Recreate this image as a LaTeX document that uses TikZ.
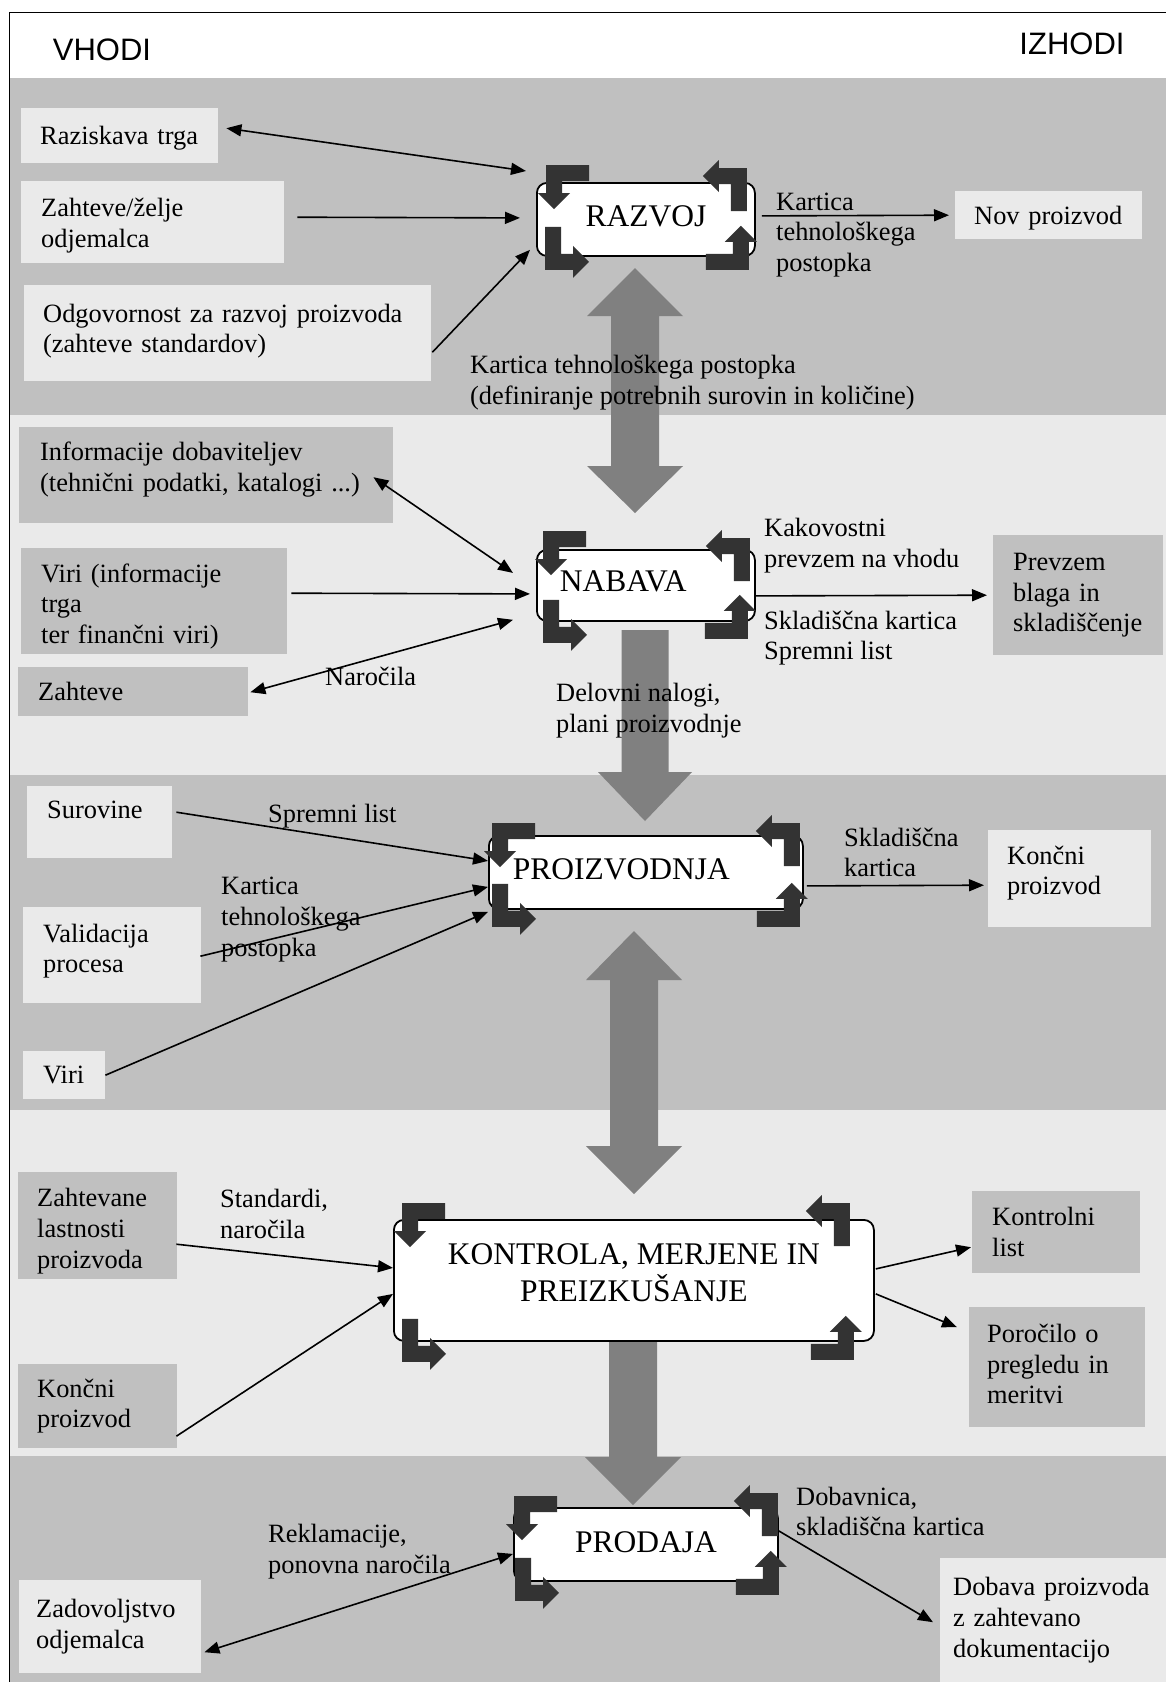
\documentclass[tikz,border=0pt]{standalone}
\usepackage{fontspec}
\setmainfont{Liberation Serif}
\newfontfamily\headfont{Liberation Sans}
\usetikzlibrary{arrows.meta,calc}
\definecolor{bandgray}{HTML}{C0C0C0}
\definecolor{bandlight}{HTML}{EAEAEA}
\definecolor{blockgray}{HTML}{808080}
\definecolor{cornergray}{HTML}{333333}
\hyphenpenalty=10000
\exhyphenpenalty=10000

% invisible struts to nudge text inside a box
\newcommand\padbelow[1]{\rule[-#1]{0pt}{#1}}
\newcommand\padabove[1]{\rule{0pt}{#1}}

% four bent arrows around a process box
\newcommand\turnarrows[9]{%
  \pic at ($(#1.north west)+(#2,#3)$) {bentarr};
  \pic[rotate=-90] at ($(#1.north east)+(#4,#5)$) {bentarr};
  \pic[rotate=90] at ($(#1.south west)+(#6,#7)$) {bentarr};
  \pic[rotate=180] at ($(#1.south east)+(#8,#9)$) {bentarr};}

\begin{document}
\begin{tikzpicture}[x=1pt,y=1pt,
  every node/.style={font=\fontsize{26.4}{30.7}\selectfont},
  inbox/.style={rectangle, anchor=north west, inner ysep=0pt, align=left},
  light/.style={fill=bandlight},
  dark/.style={fill=bandgray},
  lbl/.style={anchor=west, inner sep=0pt, align=left},
  proc/.style={draw, line width=1.8pt, fill=white, rounded corners=10pt,
    anchor=north west, inner sep=0pt, align=center,
    font=\fontsize{31.5}{37}\selectfont},
  head/.style={font=\headfont\fontsize{31}{36}\selectfont, inner sep=0pt},
  conn/.style={line width=1.6pt, -{Triangle[length=15pt,width=12pt]}},
  conn2/.style={line width=1.6pt,
    {Triangle[length=15pt,width=12pt]}-{Triangle[length=15pt,width=12pt]}},
  blockarr/.style={fill=blockgray},
  bentarr/.pic={\fill[cornergray] (43,0) -- (0,0) -- (0,-28) -- (-8,-28)
    -- (8,-44) -- (24,-28) -- (16,-28) -- (16,-16) -- (43,-16) -- cycle;}
]
\useasboundingbox (0,0) rectangle (1166,-1682);
\fill[white] (0,0) rectangle (1166,-1682);

% horizontal bands
\fill[bandgray]  (10,-78)   rectangle (1166,-415);
\fill[bandlight] (10,-415)  rectangle (1166,-775);
\fill[bandgray]  (10,-775)  rectangle (1166,-1110);
\fill[bandlight] (10,-1110) rectangle (1166,-1456);
\fill[bandgray]  (10,-1456) rectangle (1166,-1682);
\draw[line width=1.6pt] (9.5,-1682) -- (9.5,-12.5) -- (1166,-12.5);

\node[head] (vhodi) at (102,-50) {VHODI};
\node[head] (izhodi) at (1072,-44) {IZHODI};

% block arrows between the stages
\fill[blockarr] (635,-268) -- (683,-316) -- (659,-316) -- (659,-466) -- (683,-466)
  -- (635,-513) -- (587,-466) -- (611,-466) -- (611,-316) -- (587,-316) -- cycle;
\fill[blockarr] (621.5,-630) -- (668.5,-630) -- (668.5,-772) -- (692,-772)
  -- (645,-821) -- (598,-772) -- (621.5,-772) -- cycle;
\fill[blockarr] (634,-931) -- (682,-980) -- (658,-980) -- (658,-1146) -- (682,-1146)
  -- (634,-1194) -- (586,-1146) -- (610,-1146) -- (610,-980) -- (586,-980) -- cycle;
\fill[blockarr] (609,-1340) -- (657,-1340) -- (657,-1457) -- (681,-1457)
  -- (633,-1505) -- (585,-1457) -- (609,-1457) -- cycle;

% inputs and outputs
\node[inbox, light, minimum height=55pt,  inner xsep=19pt, text width=159pt] (braz)  at (21,-108)  {\padabove{22.5pt}Raziskava~trga};
\node[inbox, light, minimum height=82pt,  inner xsep=20pt, text width=223pt] (bzel)  at (21,-181)  {\padabove{25pt}Zahteve/želje\\odjemalca};
\node[inbox, light, minimum height=96pt,  inner xsep=19pt, text width=369pt] (bodg)  at (24,-285)  {Odgovornost~za~razvoj~proizvoda\\(zahteve~standardov)\padbelow{10pt}};
\node[inbox, light, minimum height=48pt,  inner xsep=19pt, text width=149pt] (bnov)  at (955,-191) {\padabove{24.5pt}Nov~proizvod};

\node[inbox, dark, minimum height=96pt,  inner xsep=21pt, text width=332pt] (binf)  at (19,-427)  {Informacije~dobaviteljev\\(tehnični~podatki,~katalogi~...)\padbelow{17pt}};
\node[inbox, dark, minimum height=106pt, inner xsep=20pt, text width=226pt] (bvir)  at (21,-548)  {\padabove{29pt}Viri~(informacije\\trga\\ter~finančni~viri)};
\node[inbox, dark, minimum height=49pt,  inner xsep=20pt, text width=190pt] (bzah)  at (18,-667)  {Zahteve};
\node[inbox, dark, minimum height=120pt, inner xsep=20pt, text width=130pt] (bprev) at (993,-535) {Prevzem\\blaga~in\\skladiščenje};

\node[inbox, light, minimum height=72pt,  inner xsep=20pt, text width=105pt, text depth=24pt] (bsur)  at (27,-786)  {Surovine};
\node[inbox, light, minimum height=96pt,  inner xsep=20pt, text width=138pt] (bval)  at (23,-907)  {Validacija\\procesa\padbelow{14pt}};
\node[inbox, light, minimum height=48pt,  inner xsep=20pt, text width=42pt]  (bviri) at (23,-1051) {Viri};
\node[inbox, light, minimum height=97pt,  inner xsep=19pt, text width=125pt] (bkon1) at (988,-830) {Končni\\proizvod\padbelow{16.5pt}};

\node[inbox, dark, minimum height=107pt, inner xsep=19pt, text width=121pt] (bzlp)  at (18,-1172)  {\padabove{29pt}Zahtevane\\lastnosti\\proizvoda};
\node[inbox, dark, minimum height=84pt,  inner xsep=19pt, text width=121pt] (bkon2) at (18,-1364)  {Končni\\proizvod};
\node[inbox, dark, minimum height=82pt,  inner xsep=20pt, text width=128pt] (bkl)   at (972,-1191) {Kontrolni\\list};
\node[inbox, dark, minimum height=120pt, inner xsep=18pt, text width=140pt] (bpor)  at (969,-1307) {Poročilo~o\\pregledu~in\\meritvi\padbelow{6.5pt}};

\node[inbox, light, minimum height=93pt,  inner xsep=17pt, text width=148pt] (bzad)  at (19,-1580)  {Zadovoljstvo\\odjemalca};
\node[inbox, light, minimum height=124pt, inner xsep=13pt, text width=200pt] (bdob)  at (940,-1558) {Dobava~proizvoda\\z~zahtevano\\dokumentacijo};

% connector labels
\node[lbl] (lkt1)  at (776,-235)    {Kartica\\tehnološkega\\postopka};
\node[lbl] (lkt2)  at (470,-382.5)  {Kartica tehnološkega postopka\\(definiranje potrebnih surovin in količine)};
\node[lbl] (lkak)  at (764,-545.5)  {Kakovostni\\prevzem na vhodu};
\node[lbl] (lskl)  at (764,-638)    {Skladiščna kartica\\Spremni list};
\node[lbl] (lnar)  at (325,-676)    {Naročila};
\node[lbl] (ldel)  at (556,-710.5)  {Delovni nalogi,\\plani proizvodnje};
\node[lbl] (lspr)  at (268,-816)    {Spremni list};
\node[lbl] (lkt3)  at (221,-919.5)  {Kartica\\tehnološkega\\postopka};
\node[lbl] (lskl2) at (844,-852.5)  {Skladiščna\\kartica};
\node[lbl] (lstd)  at (220,-1214)   {Standardi,\\naročila};
\node[lbl] (lrek)  at (268,-1551.5) {Reklamacije,\\ponovna naročila};
\node[lbl] (ldbn)  at (796,-1511.5) {Dobavnica,\\skladiščna kartica};

% process stages
\node[proc, minimum width=218pt, minimum height=73pt] (razvoj) at (536,-182) {RAZVOJ\padbelow{6.5pt}};
\node[proc, align=left, text width=172pt, inner xsep=23pt, minimum height=71pt] (nabava) at (536,-549) {NABAVA\padbelow{8.6pt}};
\node[proc, align=left, text width=266pt, inner xsep=24pt, minimum height=73pt] (proiz) at (488,-835) {PROIZVODNJA\padbelow{7pt}};
\node[proc, minimum width=480pt, minimum height=121pt] (kontrola) at (393,-1219) {KONTROLA, MERJENE IN\\PREIZKUŠANJE\padbelow{16pt}};
\node[proc, minimum width=264pt, minimum height=73pt] (prodaja) at (513,-1507) {PRODAJA\padbelow{4pt}};

\turnarrows{razvoj}{10}{17}{-9}{14}{9}{-13}{-7}{-13}
\turnarrows{nabava}{7}{18}{-6}{11}{7}{-21}{-8}{-17}
\turnarrows{proiz}{4}{12}{-4}{12}{4}{-17}{-4}{-17}
\turnarrows{kontrola}{9}{16}{-25}{16}{9}{-20}{-21}{-18}
\turnarrows{prodaja}{1}{11}{-1}{14}{2}{-19}{0}{-13}

% connectors
\draw[conn2] ($(braz.east)+(8,7.5)$) -- ($(razvoj.north west)+(-10,11)$);
\draw[conn]  ($(bzel.east)+(13,5)$) -- ($(razvoj.west)+(-16,1.5)$);
\draw[conn]  ($(bodg.east)+(1,-19)$) -- ($(razvoj.south west)+(-6,7)$);
\draw[conn]  ($(razvoj.east)+(6,3.5)$) -- ($(bnov.west)+(-6,0)$);

\draw[conn2] ($(binf.east)+(-20,-2)$) -- ($(nabava.west)+(-23,12.5)$);
\draw[conn]  ($(bvir.east)+(4,8)$) -- ($(nabava.west)+(-6,-8.5)$);
\draw[conn2] ($(bzah.east)+(2,-0.5)$) -- ($(nabava.south west)+(-23,2)$);
\draw[conn]  ($(nabava.east)+(0,-10.5)$) -- ($(bprev.west)+(-6,0)$);

\draw[conn]  ($(bsur.east)+(4,10)$) -- ($(proiz.west)+(0,11.5)$);
\draw[conn]  ($(bval.east)+(-1,-1)$) -- ($(proiz.west)+(0,-14.5)$);
\draw[conn]  (bviri.east) -- ($(proiz.south west)+(0,-2)$);
\draw[conn]  ($(proiz.east)+(3,-13.5)$) -- ($(bkon1.west)+(-4,-6.5)$);

\draw[conn]  ($(bzlp.east)+(-1,-18.5)$) -- ($(kontrola.west)+(0,12.5)$);
\draw[conn]  ($(bkon2.east)+(-1,-30)$) -- ($(kontrola.west)+(0,-13.5)$);
\draw[conn]  ($(kontrola.east)+(1,11.5)$) -- ($(bkl.west)+(-1,-15)$);
\draw[conn]  ($(kontrola.east)+(1,-13.5)$) -- ($(bpor.west)+(-12,40)$);

\draw[conn2] ($(bzad.east)+(3,-25.5)$) -- ($(prodaja.west)+(0,-9.5)$);
\draw[conn]  ($(prodaja.east)+(0,13.5)$) -- ($(bdob.west)+(-7,-2)$);
\end{tikzpicture}
\end{document}
